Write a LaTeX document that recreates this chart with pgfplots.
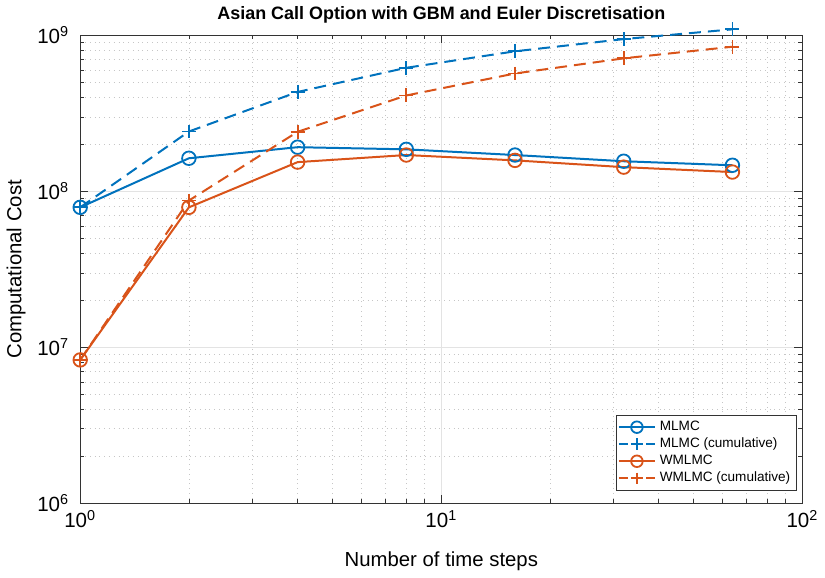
\documentclass[border=0pt]{standalone}
\usepackage{pgfplots}
\pgfplotsset{compat=1.18}
\usepackage{fontspec}
\setmainfont{Liberation Sans}
\definecolor{mblue}{rgb}{0,0.447,0.741}
\definecolor{morange}{rgb}{0.85,0.325,0.098}
\pgfplotsset{
  dashlegend/.style={
    legend image code/.code={
      \draw[##1, dash pattern=on 4.3pt off 1.7pt on 6pt off 1.7pt on 4.3pt off 10pt] (0pt,0pt) -- (18pt,0pt);
      \draw[##1, solid] plot[mark size=2.9pt] coordinates {(9pt,0pt)};
    }
  }
}
\begin{document}
\begin{tikzpicture}
\begin{loglogaxis}[
  scale only axis,
  width=362pt, height=234.5pt,
  xmin=1, xmax=100, ymin=1e6, ymax=1e9,
  log basis x=10, log basis y=10,
  xtick={1,10,100}, ytick={1e6,1e7,1e8,1e9},
  minor xtick={2,3,4,5,6,7,8,9,20,30,40,50,60,70,80,90},
  minor ytick={2e6,3e6,4e6,5e6,6e6,7e6,8e6,9e6,2e7,3e7,4e7,5e7,6e7,7e7,8e7,9e7,2e8,3e8,4e8,5e8,6e8,7e8,8e8,9e8},
  xticklabel={10\textsuperscript{\pgfmathparse{int(round(\tick))}\pgfmathresult}},
  yticklabel={10\textsuperscript{\pgfmathparse{int(round(\tick))}\pgfmathresult}},
  tick label style={font=\fontsize{10.3}{12}\selectfont},
  yticklabel style={xshift=-2pt},
  xlabel={Number of time steps},
  ylabel={Computational Cost},
  label style={font=\fontsize{10.2}{12}\selectfont},
  xlabel style={yshift=-5pt},
  ylabel style={yshift=-1pt},
  title={\textbf{Asian Call Option with GBM and Euler Discretisation}},
  title style={font=\fontsize{9}{10}\selectfont, yshift=-3.5pt},
  clip=false,
  grid=both,
  major grid style={gray!22, line width=0.4pt},
  minor grid style={gray!45, dotted, line width=0.4pt},
  axis line style={black!80, line width=0.5pt},
  tick style={black!80, line width=0.4pt},
  major tick length=4pt, minor tick length=2pt,
  tick align=inside,
  legend style={font=\fontsize{6.8}{7.5}\selectfont, at={(0.992,0.026)}, anchor=south east,
    draw=black!80, line width=0.4pt, inner sep=1pt, row sep=-1.8pt, cells={anchor=west}},
  legend image code/.code={
    \draw[mark repeat=2,mark phase=2,#1,mark size=2.9pt] plot coordinates {(0pt,0pt)(9pt,0pt)(18pt,0pt)};
  },
]
\addplot[mblue, line width=1pt, mark=o, mark size=3.4pt, mark options={solid, line width=0.9pt}]
 coordinates {(1,7.9e7)(2,1.63e8)(4,1.92e8)(8,1.86e8)(16,1.71e8)(32,1.56e8)(64,1.47e8)};
\addlegendentry{MLMC}
\addplot[mblue, line width=1pt, dash pattern=on 6pt off 3.5pt, mark=+, mark size=3.5pt, mark options={solid, line width=0.9pt}, dashlegend]
 coordinates {(1,7.9e7)(2,2.42e8)(4,4.34e8)(8,6.2e8)(16,7.91e8)(32,9.47e8)(64,1.094e9)};
\addlegendentry{MLMC (cumulative)}
\addplot[morange, line width=1pt, mark=o, mark size=3.4pt, mark options={solid, line width=0.9pt}]
 coordinates {(1,8.3e6)(2,7.9e7)(4,1.54e8)(8,1.71e8)(16,1.58e8)(32,1.43e8)(64,1.33e8)};
\addlegendentry{WMLMC}
\addplot[morange, line width=1pt, dash pattern=on 6pt off 3.5pt, mark=+, mark size=3.5pt, mark options={solid, line width=0.9pt}, dashlegend]
 coordinates {(1,8.3e6)(2,8.73e7)(4,2.41e8)(8,4.12e8)(16,5.7e8)(32,7.13e8)(64,8.46e8)};
\addlegendentry{WMLMC (cumulative)}
\end{loglogaxis}
\end{tikzpicture}
\end{document}
